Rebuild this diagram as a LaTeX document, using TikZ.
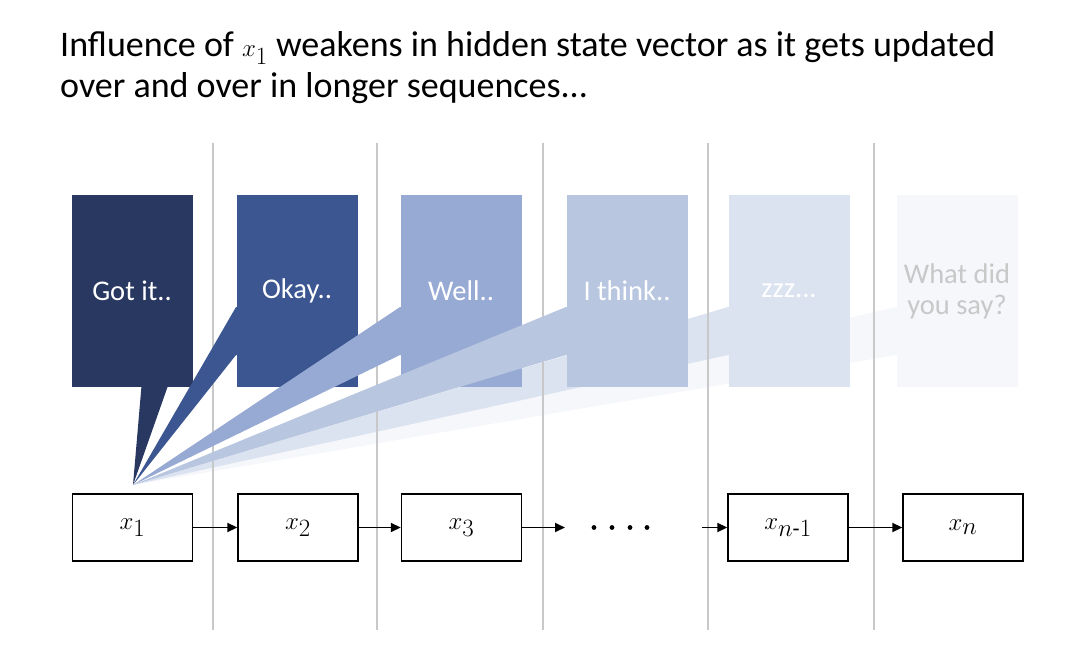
\documentclass[tikz,border=0pt]{standalone}
\usepackage{amsmath}
\usepackage{fontspec}
\setmainfont{Carlito}
\usetikzlibrary{arrows.meta}
\definecolor{cA}{HTML}{283860}
\definecolor{cB}{HTML}{3B5690}
\definecolor{cC}{HTML}{97AAD4}
\definecolor{cD}{HTML}{B8C6E0}
\definecolor{cE}{HTML}{DCE3F0}
\definecolor{cF}{HTML}{F5F7FB}
\definecolor{gtext}{HTML}{C8C8C8}
\definecolor{gline}{HTML}{C8C8C8}
\tikzset{
  bubble/.style={minimum width=121pt, minimum height=192pt, inner sep=0pt, text=white, align=center,
    font=\fontsize{28.5}{31}\selectfont},
  state/.style={draw=black, line width=1.4pt, fill=white, minimum width=120pt, minimum height=67pt, inner sep=0pt,
    font=\fontsize{33}{34}\selectfont},
  arr/.style={line width=1.8pt, -{Triangle[length=10pt,width=9pt]}},
  sep/.style={draw=gline, line width=1.4pt}
}
\begin{document}
\begin{tikzpicture}[x=1pt,y=-1pt]
\useasboundingbox (0,0) rectangle (1086,658);
\coordinate (tip) at (133,485);
% title
\node[anchor=base west, align=left, inner sep=0pt, font=\fontsize{36}{41}\selectfont] (title) at (60,98)
  {Influence of $x_1$ weakens in hidden state vector as it gets updated\\over and over in longer sequences...};
% callouts 6 and 5 (behind separators)
\fill[cF] (tip) -- (896,307) -- (910,307) -- (910,355) -- (896,355) -- cycle;
\node[bubble, fill=cF, text=gtext] (b6) at (957,291) {What did\\you say?};
\fill[cE] (tip) -- (728,307) -- (740,307) -- (740,355) -- (728,355) -- cycle;
\node[bubble, fill=cE] (b5) at (789,291) {zzz...};
% separators
\foreach \xx/\nm in {213/v1,377/v2,543/v3,708/v4,874/v5}{
  \coordinate (\nm t) at (\xx,143);
  \coordinate (\nm b) at (\xx,630);
  \draw[sep] (\nm t) -- (\nm b);
}
% callouts 1-4
\fill[cA] (tip) -- (142,380) -- (170,380) -- cycle;
\node[bubble, fill=cA] (b1) at (132,291) {Got it..};
\fill[cB] (tip) -- (236,307) -- (250,307) -- (250,355) -- (236,355) -- cycle;
\node[bubble, fill=cB] (b2) at (297,291) {Okay..};
\fill[cC] (tip) -- (400,307) -- (414,307) -- (414,355) -- (400,355) -- cycle;
\node[bubble, fill=cC] (b3) at (461,291) {Well..};
\fill[cD] (tip) -- (566,307) -- (580,307) -- (580,355) -- (566,355) -- cycle;
\node[bubble, fill=cD] (b4) at (627,291) {I think..};
% states
\node[state] (s1) at (132.5,527.5) {$x_1$};
\node[state] (s2) at (298,527.5) {$x_2$};
\node[state] (s3) at (461.5,527.5) {$x_3$};
\node[state] (sn1) at (788,527.5) {$x_{n\text{-}1}$};
\node[state] (sn) at (963,527.5) {$x_n$};
\coordinate (d1) at (565,527.5);
\coordinate (d2) at (702,527.5);
\draw[arr] (s1) -- (s2);
\draw[arr] (s2) -- (s3);
\draw[arr] (s3) -- (d1);
\draw[arr] (d2) -- (sn1);
\draw[arr] (sn1) -- (sn);
\foreach \xx in {594,612,630,647} \fill (\xx,527.5) circle (2.4pt);
\end{tikzpicture}
\end{document}
